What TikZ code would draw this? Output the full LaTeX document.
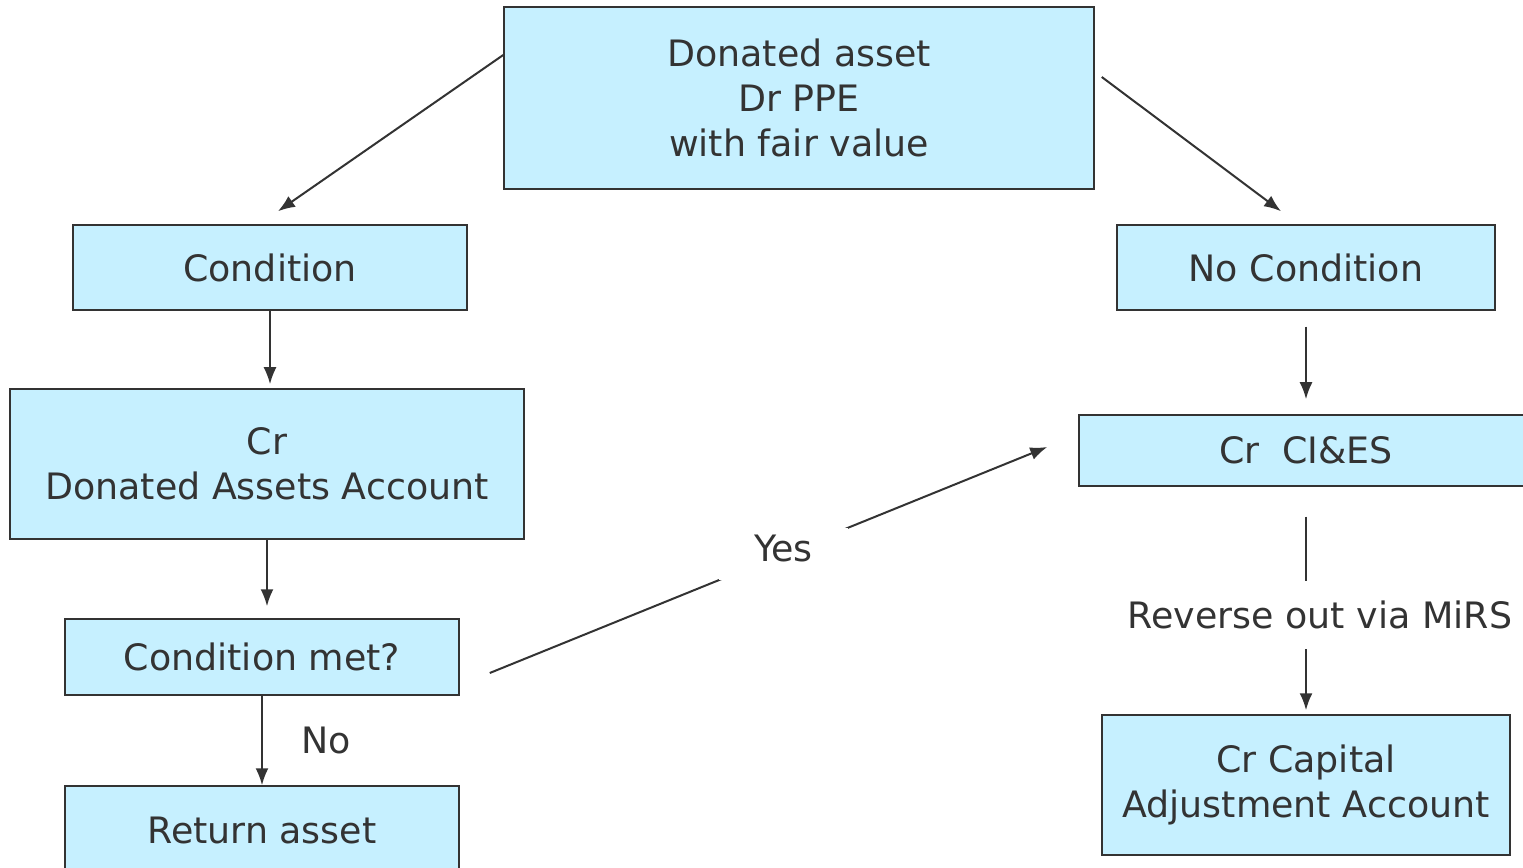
\documentclass[tikz,border=0pt]{standalone}
\usepackage{fontspec}
\setmainfont{DejaVu Sans}
\usetikzlibrary{arrows.meta, positioning, calc}
\definecolor{boxblue}{RGB}{198,240,255}
\definecolor{inkgray}{RGB}{51,51,51}

\begin{document}
\begin{tikzpicture}[
    x=1bp, y=1bp,
    box/.style={rectangle, draw=inkgray, fill=boxblue, line width=1.5bp, align=center, text=inkgray, font=\fontsize{36.5}{45.5}\selectfont, inner sep=0pt},
    lbl/.style={text=inkgray, font=\fontsize{36.5}{45.5}\selectfont, inner sep=0pt},
    arrow/.style={-{Latex[length=17bp, width=13bp]}, line width=2bp, draw=inkgray}
]
\useasboundingbox (0,0) rectangle (1523,867);

% Asset
\node[box, minimum width=590bp, minimum height=182bp] (asset) at (799,769) {Donated asset\\Dr PPE\\with fair value};

% Condition branch
\node[box, minimum width=394bp, minimum height=85bp] (cond) at (270,599.5) {Condition};
\node[box, minimum width=514bp, minimum height=150bp, below=77.5bp of cond, xshift=-3bp] (donacc) {Cr\\Donated Assets Account};
\node[box, minimum width=394bp, minimum height=76bp, below=78.5bp of donacc, xshift=-5bp] (met) {Condition met?};
\node[box, minimum width=394bp, minimum height=88bp, below=89.5bp of met] (ret) {Return asset};

% No condition branch
\node[box, minimum width=378bp, minimum height=85bp] (nocond) at (1306,599.5) {No Condition};
\node[box, minimum width=454bp, minimum height=71bp, below=103.5bp of nocond] (cies) {Cr~~CI\&ES};
\node[box, minimum width=408bp, minimum height=140bp, below=227.5bp of cies] (capadj) {Cr Capital\\Adjustment Account};

% Free ends
\coordinate (asset-l) at ($(asset.west)+(0,43)$);
\coordinate (cond-in) at ($(cond.north)+(8,13)$);
\coordinate (asset-r) at ($(asset.east)+(7,21)$);
\coordinate (nocond-in) at ($(nocond.north)+(-25,13)$);
\coordinate (met-out) at ($(met.east)+(30,-16)$);
\coordinate (cies-in) at ($(cies.west)+(-31,3.5)$);

% Arrows
\draw[arrow] (asset-l) -- (cond-in);
\draw[arrow] (asset-r) -- (nocond-in);
\draw[arrow, shorten >=4bp] (cond.south) -- (cond.south |- donacc.north);
\draw[arrow, shorten >=12bp] (donacc.south) -- (donacc.south |- met.north);
\draw[arrow] (met.south) -- node[lbl, right=38bp] (no) {No} (ret.north);
\draw[arrow] (met-out) -- node[lbl, pos=0.527, fill=white, text depth=12bp, inner xsep=35bp, inner ysep=7bp] (yes) {Yes} (cies-in);
\draw[arrow, shorten <=16bp, shorten >=15bp] (nocond) -- (cies);
\draw[arrow, shorten <=30bp, shorten >=4bp] (cies) -- (capadj);

% Label
\node[lbl, fill=white, inner xsep=4bp, inner ysep=20bp] (mirs) at (1320,252) {Reverse out via MiRS};

\end{tikzpicture}
\end{document}
